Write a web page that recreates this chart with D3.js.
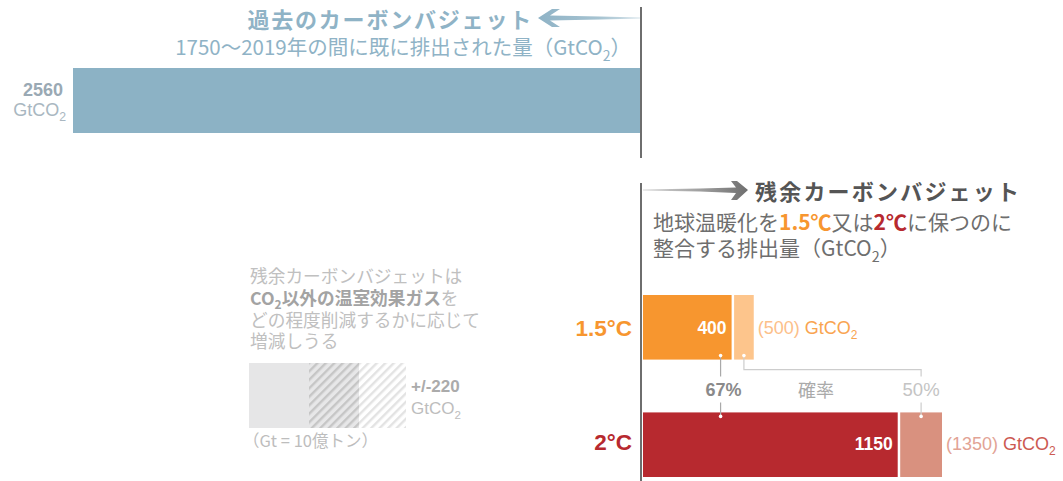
<!DOCTYPE html>
<html lang="ja">
<head>
<meta charset="utf-8">
<script src="https://cdn.jsdelivr.net/npm/d3@7"></script>
<style>
  html, body { margin: 0; padding: 0; background: #fff; }
  svg { display: block; }
  .jp { font-family: "Noto Sans CJK JP", "Noto Sans", sans-serif; }
  .num { font-family: "Liberation Sans", Arial, sans-serif; }
</style>
</head>
<body>
<svg id="chart" width="1063" height="481"></svg>
<script>
// Carbon budget values (GtCO2)
const pastBudget = [2560];
const scenarios = ["1.5°C", "2°C"];
const budget67 = [400, 1150];   // 67% likelihood
const budget50 = [500, 1350];   // 50% likelihood
const uncertainty = ["+/-220"];

const colorsDark = ["#f7962f", "#b7292f"];
const colorsLight = ["#fdc58c", "#d9917f"];
const labelLight = ["#fcc08a", "#e2a395"];
const labelUnit = ["#f9a450", "#cc5a52"];

const svg = d3.select("#chart");
const axisX = 641;

// Shared horizontal scale, GtCO2 -> pixels
const x = d3.scaleLinear().domain([0, 2560]).range([0, 567]);

const defs = svg.append("defs");

// Hatch patterns for the uncertainty key
function hatch(id, bg, stroke) {
  const p = defs.append("pattern").attr("id", id)
    .attr("patternUnits", "userSpaceOnUse").attr("width", 6).attr("height", 6)
    .attr("patternTransform", "rotate(45)");
  p.append("rect").attr("width", 6).attr("height", 6).attr("fill", bg);
  p.append("rect").attr("x", 0).attr("width", 2.4).attr("height", 6).attr("fill", stroke);
}
hatch("hatchDark", "#e7e7e8", "#c6c6c6");
hatch("hatchLight", "#ffffff", "#e3e3e3");

const gLeft = defs.append("linearGradient").attr("id", "gLeft");
gLeft.append("stop").attr("offset", "0%").attr("stop-color", "#8fb3c6");
gLeft.append("stop").attr("offset", "60%").attr("stop-color", "#a6c3d1");
gLeft.append("stop").attr("offset", "100%").attr("stop-color", "#d6e3ea");

const gRight = defs.append("linearGradient").attr("id", "gRight");
gRight.append("stop").attr("offset", "0%").attr("stop-color", "#d8d8d8");
gRight.append("stop").attr("offset", "100%").attr("stop-color", "#6f6f6f");

// Subscripted GtCO2 helper
function gtco2(t, size, prefix, suffix) {
  if (prefix) t.append("tspan").text(prefix);
  t.append("tspan").text("GtCO");
  t.append("tspan").attr("font-size", size * 0.68).attr("dy", size * 0.28).text("2");
  if (suffix) t.append("tspan").attr("dy", -size * 0.28).text(suffix);
}

// ---- Past carbon budget ----
svg.append("rect")
  .attr("x", axisX - 1 - x(pastBudget[0])).attr("y", 68)
  .attr("width", x(pastBudget[0])).attr("height", 65)
  .attr("fill", "#8cb2c5");

svg.append("text").attr("class", "num")
  .attr("x", 63).attr("y", 95.5).attr("text-anchor", "end")
  .attr("font-size", 18).attr("font-weight", "bold").attr("fill", "#9aa9b4")
  .text(d3.format("d")(pastBudget[0]));
gtco2(svg.append("text").attr("class", "num")
  .attr("x", 66).attr("y", 116).attr("text-anchor", "end")
  .attr("font-size", 18).attr("fill", "#a9b7c1"), 18);

svg.append("text").attr("class", "jp")
  .attr("x", 533).attr("y", 28).attr("text-anchor", "end")
  .attr("font-size", 22).attr("font-weight", "bold").attr("letter-spacing", 1.8)
  .attr("fill", "#8fb3c6").text("過去のカーボンバジェット");

const sub1 = svg.append("text").attr("class", "jp")
  .attr("x", 631).attr("y", 55).attr("text-anchor", "end")
  .attr("font-size", 20.5).attr("fill", "#8fb3c6");
gtco2(sub1, 20.5, "1750～2019年の間に既に排出された量（", "）");

// left-pointing arrow
svg.append("path")
  .attr("d", "M538,18 L552,9 L560,9 L550,15.5 L600,16.5 L640,17.5 L640,18.5 L600,19.5 L550,20.5 L560,27 L552,27 Z")
  .attr("fill", "url(#gLeft)");

// ---- Vertical axis ----
svg.append("line").attr("x1", axisX).attr("x2", axisX).attr("y1", 7).attr("y2", 158)
  .attr("stroke", "#6e6e6e").attr("stroke-width", 2);
svg.append("line").attr("x1", axisX).attr("x2", axisX).attr("y1", 183).attr("y2", 481)
  .attr("stroke", "#6e6e6e").attr("stroke-width", 2);

// ---- Remaining carbon budget header ----
svg.append("path")
  .attr("d", "M643,189.5 L700,188.5 L736,187.5 L731,181 L737,181 L748,190 L737,200 L731,200 L736,193 L700,191.5 L643,190.5 Z")
  .attr("fill", "url(#gRight)");

svg.append("text").attr("class", "jp")
  .attr("x", 755).attr("y", 200)
  .attr("font-size", 22).attr("font-weight", "bold").attr("letter-spacing", 2.2)
  .attr("fill", "#555555").text("残余カーボンバジェット");

const sub2 = svg.append("text").attr("class", "jp")
  .attr("x", 653).attr("y", 230).attr("font-size", 21).attr("fill", "#6e6e6e");
sub2.append("tspan").text("地球温暖化を");
sub2.append("tspan").attr("font-weight", "bold").attr("fill", colorsDark[0]).text("1.5℃");
sub2.append("tspan").text("又は");
sub2.append("tspan").attr("font-weight", "bold").attr("fill", colorsDark[1]).text("2℃");
sub2.append("tspan").text("に保つのに");
gtco2(svg.append("text").attr("class", "jp")
  .attr("x", 653).attr("y", 256).attr("font-size", 21).attr("fill", "#6e6e6e"), 21, "整合する排出量（", "）");

// ---- Scenario bars ----
const y = d3.scaleBand().domain(scenarios).range([295, 477]).paddingInner(0.45);
const x0 = axisX + 2;
const gap = 2.5;

const rows = svg.selectAll("g.row").data(scenarios).join("g").attr("class", "row");

rows.append("rect")
  .attr("x", x0).attr("y", d => y(d))
  .attr("width", (d, i) => x(budget67[i])).attr("height", y.bandwidth())
  .attr("fill", (d, i) => colorsDark[i]);

rows.append("rect")
  .attr("x", (d, i) => x0 + x(budget67[i]) + gap).attr("y", d => y(d))
  .attr("width", (d, i) => x(budget50[i]) - x(budget67[i]) - gap).attr("height", y.bandwidth())
  .attr("fill", (d, i) => colorsLight[i]);

rows.append("text").attr("class", "num")
  .attr("x", 632).attr("y", (d, i) => y(d) + y.bandwidth() / 2 + 8.5 - i * 3)
  .attr("text-anchor", "end").attr("font-size", 22.5).attr("font-weight", "bold")
  .attr("fill", (d, i) => colorsDark[i]).text(d => d);

rows.append("text").attr("class", "num")
  .attr("x", (d, i) => x0 + x(budget67[i]) - 5).attr("y", (d, i) => y(d) + y.bandwidth() / 2 + 7 - i * 1.5)
  .attr("text-anchor", "end").attr("font-size", 17.5).attr("font-weight", "bold")
  .attr("fill", "#ffffff").text((d, i) => budget67[i]);

rows.each(function (d, i) {
  const t = d3.select(this).append("text").attr("class", "num")
    .attr("x", x0 + x(budget50[i]) + 4).attr("y", y(d) + y.bandwidth() / 2 + 7 - i * 1.5)
    .attr("font-size", 18).attr("fill", labelLight[i]);
  t.append("tspan").text(`(${budget50[i]}) `);
  t.append("tspan").attr("fill", labelUnit[i]).text("GtCO");
  t.append("tspan").attr("fill", labelUnit[i]).attr("font-size", 12).attr("dy", 5).text("2");
});

// ---- Likelihood connectors ----
const topY = y(scenarios[0]) + y.bandwidth();
const botY = y(scenarios[1]);
const x67 = x0 + x(budget67[0]) - 11;
const x50a = x0 + (x(budget67[0]) + gap + x(budget50[0])) / 2;
const x50b = x0 + (x(budget67[1]) + gap + x(budget50[1])) / 2;

const conn = svg.append("g").attr("fill", "none").attr("stroke-width", 1.2);
conn.append("path").attr("stroke", "#a9a9a9")
  .attr("d", `M${x67},${topY - 4} V${topY + 17} M${x67},${botY - 10} V${botY + 4}`);
conn.append("path").attr("stroke", "#cdcdcd")
  .attr("d", `M${x50a},${topY - 4} V${topY + 10} H${x50b} V${topY + 17} M${x50b},${botY - 10} V${botY + 4}`);

const dots = [[x67, topY - 4], [x50a, topY - 4], [x67, botY + 4], [x50b, botY + 4]];
svg.append("g").selectAll("circle").data(dots).join("circle")
  .attr("cx", d => d[0]).attr("cy", d => d[1]).attr("r", 1.8)
  .attr("fill", "#ffffff");

const midY = (topY + botY) / 2 + 9.5;
svg.append("text").attr("class", "num").attr("x", x67 + 3).attr("y", midY)
  .attr("text-anchor", "middle").attr("font-size", 18).attr("font-weight", "bold")
  .attr("fill", "#8a8a8a").text("67%");
svg.append("text").attr("class", "jp").attr("x", 816).attr("y", midY + 1)
  .attr("text-anchor", "middle").attr("font-size", 18).attr("fill", "#aaaaaa").text("確率");
svg.append("text").attr("class", "num").attr("x", x50b).attr("y", midY)
  .attr("text-anchor", "middle").attr("font-size", 18.5).attr("fill", "#c4c4c4").text("50%");

// ---- Non-CO2 uncertainty note ----
const note = svg.append("g").attr("class", "jp").attr("font-size", 17.7).attr("fill", "#c0c0c0");
note.append("text").attr("x", 250).attr("y", 283).text("残余カーボンバジェットは");
const l2 = note.append("text").attr("x", 250).attr("y", 305);
l2.append("tspan").attr("font-weight", "bold").attr("fill", "#a3a3a3").text("CO");
l2.append("tspan").attr("font-weight", "bold").attr("fill", "#a3a3a3").attr("font-size", 12).attr("dy", 4).text("2");
l2.append("tspan").attr("font-weight", "bold").attr("fill", "#a3a3a3").attr("dy", -4).text("以外の温室効果ガス");
l2.append("tspan").text("を");
note.append("text").attr("x", 250).attr("y", 327).text("どの程度削減するかに応じて");
note.append("text").attr("x", 250).attr("y", 348).text("増減しうる");

svg.append("rect").attr("x", 249).attr("y", 363).attr("width", 60).attr("height", 65).attr("fill", "#e6e6e7");
svg.append("rect").attr("x", 309).attr("y", 363).attr("width", 50).attr("height", 65).attr("fill", "url(#hatchDark)");
svg.append("rect").attr("x", 359).attr("y", 363).attr("width", 47).attr("height", 65).attr("fill", "url(#hatchLight)");

svg.append("text").attr("class", "num").attr("x", 411).attr("y", 392)
  .attr("font-size", 17).attr("font-weight", "bold").attr("fill", "#ababab").text(uncertainty[0]);
gtco2(svg.append("text").attr("class", "num").attr("x", 411).attr("y", 414)
  .attr("font-size", 17).attr("fill", "#bdbdbd"), 17);

svg.append("text").attr("class", "jp").attr("x", 243).attr("y", 447)
  .attr("font-size", 16.5).attr("fill", "#bdbdbd").text("（Gt = 10億トン）");
</script>
</body>
</html>
